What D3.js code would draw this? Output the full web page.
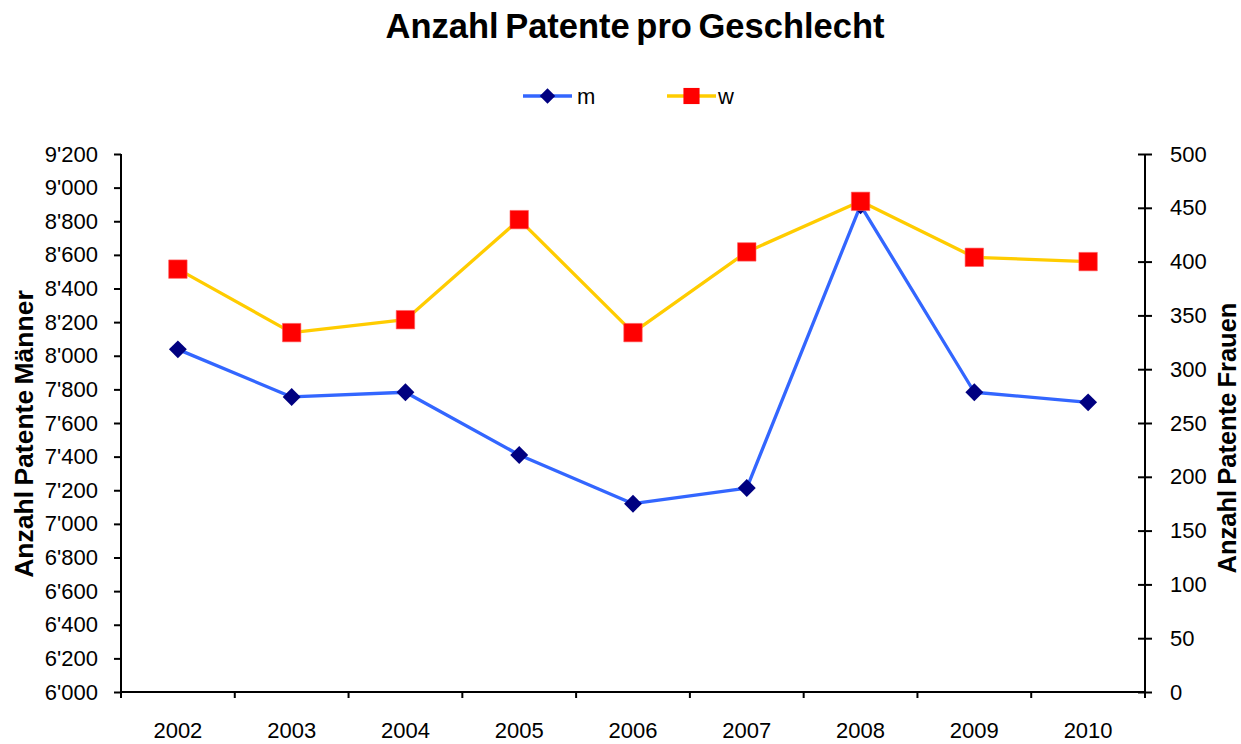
<!DOCTYPE html>
<html>
<head>
<meta charset="utf-8">
<script src="https://cdn.jsdelivr.net/npm/d3@7"></script>
<style>
    body { margin: 0; background: #fff; }
    svg text { font-family: "Liberation Sans", Arial, sans-serif; fill: #000; }
</style>
</head>
<body>
<div id="chart"></div>
<script>
const years = ["2002","2003","2004","2005","2006","2007","2008","2009","2010"];
const maenner = [8038, 7755, 7783, 7410, 7120, 7213, 8895, 7783, 7723];
const frauen = [393, 334, 346, 439, 334, 409, 456, 404, 400];
const leftTicks = [6000,6200,6400,6600,6800,7000,7200,7400,7600,7800,8000,8200,8400,8600,8800,9000,9200];
const rightTicks = [0,50,100,150,200,250,300,350,400,450,500];

const width = 1241, height = 744;
const margin = {top: 154, right: 96, bottom: 52, left: 121};
const innerW = width - margin.left - margin.right;
const innerH = height - margin.top - margin.bottom;

const locale = d3.formatLocale({decimal: ".", thousands: "'", grouping: [3], currency: ["", ""]});
const fmt = locale.format(",");

const svg = d3.select("#chart").append("svg")
    .attr("width", width)
    .attr("height", height);

svg.append("text")
    .attr("x", 635)
    .attr("y", 38)
    .attr("text-anchor", "middle")
    .style("font-size", "34.5px")
    .style("font-weight", "bold")
    .style("word-spacing", "-3px")
    .text("Anzahl Patente pro Geschlecht");

const g = svg.append("g")
    .attr("transform", "translate(" + margin.left + "," + margin.top + ")");

const x = d3.scaleBand().domain(years).range([0, innerW]).padding(0);
const yL = d3.scaleLinear().domain([6000, 9200]).range([innerH, 0]);
const yR = d3.scaleLinear().domain([0, 500]).range([innerH, 0]);

// x axis, ticks between categories
const xAxis = g.append("g").attr("transform", "translate(0," + innerH + ")");
xAxis.append("line").attr("x1", 0).attr("x2", innerW).attr("stroke", "#000").attr("stroke-width", 2);
xAxis.selectAll(".xtick")
    .data(d3.range(years.length + 1))
    .join("line")
    .attr("class", "xtick")
    .attr("x1", i => i * x.bandwidth())
    .attr("x2", i => i * x.bandwidth())
    .attr("y1", 0).attr("y2", 6)
    .attr("stroke", "#000").attr("stroke-width", 2);
xAxis.selectAll(".xlabel")
    .data(years)
    .join("text")
    .attr("class", "xlabel")
    .attr("x", d => x(d) + x.bandwidth() / 2)
    .attr("y", 46)
    .attr("text-anchor", "middle")
    .style("font-size", "22px")
    .text(d => d);

// left axis
const leftAxis = g.append("g")
    .call(d3.axisLeft(yL).tickValues(leftTicks).tickFormat(fmt).tickSize(7).tickPadding(16));
leftAxis.select(".domain").attr("stroke-width", 2).attr("d", "M0," + innerH + "V0");
leftAxis.selectAll(".tick line").attr("stroke-width", 2);
leftAxis.selectAll("text").style("font-size", "22px").style("font-family", "Liberation Sans, Arial, sans-serif");

// right axis, ticks crossing
const rightAxis = g.append("g")
    .attr("transform", "translate(" + innerW + ",0)")
    .call(d3.axisRight(yR).tickValues(rightTicks).tickSize(7).tickPadding(18));
rightAxis.select(".domain").attr("stroke-width", 2).attr("d", "M0," + innerH + "V0");
rightAxis.selectAll(".tick line").attr("x1", -7).attr("stroke-width", 2);
rightAxis.selectAll("text").style("font-size", "22px").style("font-family", "Liberation Sans, Arial, sans-serif");
svg.selectAll(".domain").attr("stroke", "#000");

// axis titles
svg.append("text")
    .attr("transform", "translate(33,434) rotate(-90)")
    .attr("text-anchor", "middle")
    .style("font-size", "26.5px")
    .style("font-weight", "bold")
    .style("word-spacing", "-2px")
    .text("Anzahl Patente Männer");
svg.append("text")
    .attr("transform", "translate(1236,438) rotate(-90)")
    .attr("text-anchor", "middle")
    .style("font-size", "25.5px")
    .style("font-weight", "bold")
    .style("word-spacing", "-2px")
    .text("Anzahl Patente Frauen");

const cx = i => x(years[i]) + x.bandwidth() / 2;
const blue = "#3366FF", navy = "#000080", gold = "#FFCC00", red = "#FF0000";

g.append("path")
    .datum(maenner)
    .attr("fill", "none")
    .attr("stroke", blue)
    .attr("stroke-width", 3.3)
    .attr("stroke-linejoin", "round")
    .attr("d", d3.line().x((d, i) => cx(i)).y(d => yL(d)));

g.append("path")
    .datum(frauen)
    .attr("fill", "none")
    .attr("stroke", gold)
    .attr("stroke-width", 3.3)
    .attr("stroke-linejoin", "round")
    .attr("d", d3.line().x((d, i) => cx(i)).y(d => yR(d)));

const diamond = d3.symbol().type(d3.symbolSquare).size(160)();
const square = d3.symbol().type(d3.symbolSquare).size(340)();

g.selectAll(".mMark")
    .data(maenner)
    .join("path")
    .attr("class", "mMark")
    .attr("d", diamond)
    .attr("fill", navy)
    .attr("transform", (d, i) => "translate(" + cx(i) + "," + yL(d) + ") rotate(45)");

g.selectAll(".wMark")
    .data(frauen)
    .join("path")
    .attr("class", "wMark")
    .attr("d", square)
    .attr("fill", red)
    .attr("stroke", "#ff6060")
    .attr("stroke-width", 0.6)
    .attr("transform", (d, i) => "translate(" + cx(i) + "," + yR(d) + ")");

// legend
const legend = [
    {name: "m", line: blue, mark: diamond, fill: navy, rot: 45, x: 523},
    {name: "w", line: gold, mark: square, fill: red, rot: 0, x: 667}
];
const lg = svg.selectAll(".legendItem")
    .data(legend)
    .join("g")
    .attr("class", "legendItem")
    .attr("transform", d => "translate(" + d.x + ",96)");
lg.append("line")
    .attr("x1", 0).attr("x2", 49)
    .attr("stroke", d => d.line)
    .attr("stroke-width", 3.3);
lg.append("path")
    .attr("d", d => d.name === "m" ? d3.symbol().type(d3.symbolSquare).size(120)() : d3.symbol().type(d3.symbolSquare).size(260)())
    .attr("fill", d => d.fill)
    .attr("transform", d => "translate(24.5,0) rotate(" + d.rot + ")");
lg.append("text")
    .attr("x", d => d.name === "m" ? 54 : 51)
    .attr("y", 8)
    .style("font-size", "22px")
    .text(d => d.name);
</script>
</body>
</html>
